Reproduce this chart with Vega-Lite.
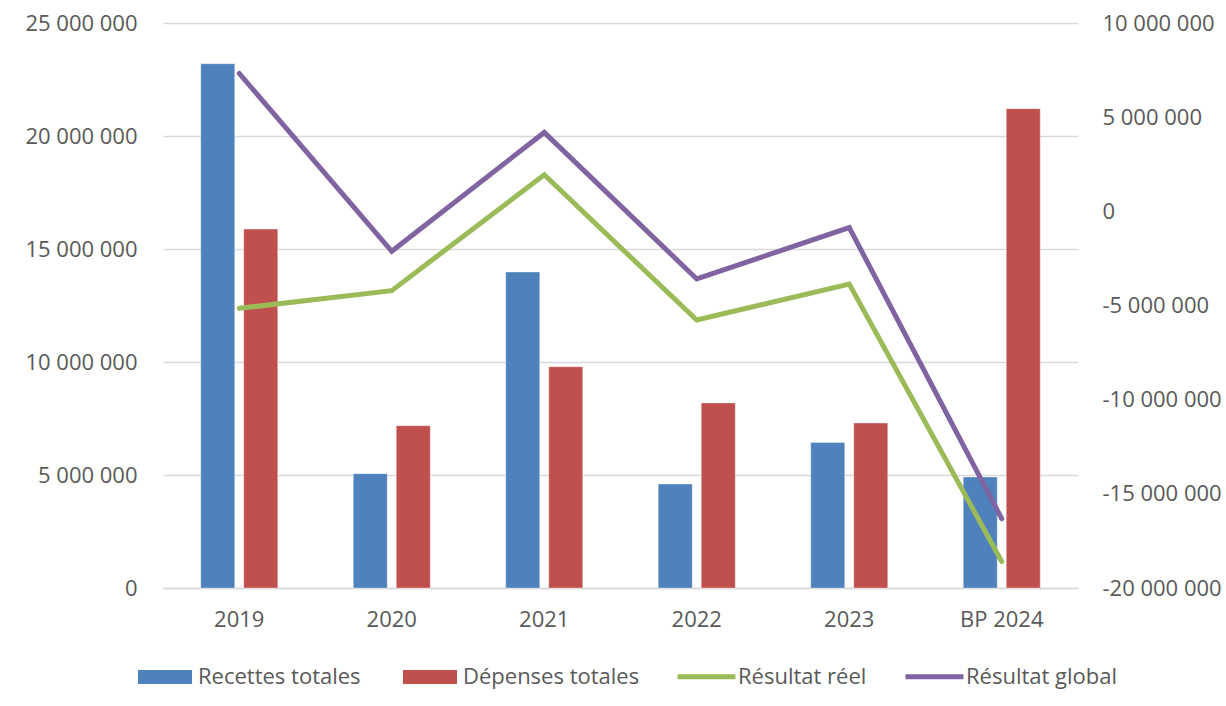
{
  "$schema": "https://vega.github.io/schema/vega-lite/v6.json",
  "autosize": "none",
  "width": 915,
  "height": 565,
  "padding": {"left": 163, "top": 23, "right": 148, "bottom": 118},
  "background": "white",
  "config": {
    "font": "Open Sans",
    "view": {"stroke": null},
    "axis": {
      "labelFont": "Open Sans",
      "labelFontSize": 22,
      "labelColor": "#595959",
      "ticks": false,
      "title": null
    },
    "legend": {
      "labelFont": "Open Sans",
      "labelFontSize": 22,
      "labelColor": "#595959",
      "labelLimit": 400
    }
  },
  "data": {
    "values": [
      {"annee": "2019", "serie": "Recettes totales", "valeur": 23200000},
      {"annee": "2019", "serie": "Dépenses totales", "valeur": 15880000},
      {"annee": "2019", "serie": "Résultat réel", "valeur": -5150000},
      {"annee": "2019", "serie": "Résultat global", "valeur": 7320000},
      {"annee": "2020", "serie": "Recettes totales", "valeur": 5060000},
      {"annee": "2020", "serie": "Dépenses totales", "valeur": 7180000},
      {"annee": "2020", "serie": "Résultat réel", "valeur": -4210000},
      {"annee": "2020", "serie": "Résultat global", "valeur": -2120000},
      {"annee": "2021", "serie": "Recettes totales", "valeur": 13980000},
      {"annee": "2021", "serie": "Dépenses totales", "valeur": 9790000},
      {"annee": "2021", "serie": "Résultat réel", "valeur": 1940000},
      {"annee": "2021", "serie": "Résultat global", "valeur": 4190000},
      {"annee": "2022", "serie": "Recettes totales", "valeur": 4600000},
      {"annee": "2022", "serie": "Dépenses totales", "valeur": 8190000},
      {"annee": "2022", "serie": "Résultat réel", "valeur": -5770000},
      {"annee": "2022", "serie": "Résultat global", "valeur": -3590000},
      {"annee": "2023", "serie": "Recettes totales", "valeur": 6440000},
      {"annee": "2023", "serie": "Dépenses totales", "valeur": 7300000},
      {"annee": "2023", "serie": "Résultat réel", "valeur": -3860000},
      {"annee": "2023", "serie": "Résultat global", "valeur": -860000},
      {"annee": "BP 2024", "serie": "Recettes totales", "valeur": 4910000},
      {"annee": "BP 2024", "serie": "Dépenses totales", "valeur": 21210000},
      {"annee": "BP 2024", "serie": "Résultat réel", "valeur": -18590000},
      {"annee": "BP 2024", "serie": "Résultat global", "valeur": -16320000}
    ]
  },
  "layer": [
    {
      "transform": [{"filter": "datum.serie === 'Recettes totales' || datum.serie === 'Dépenses totales'"}],
      "mark": {"type": "bar", "stroke": "white", "strokeOpacity": 0.35, "strokeWidth": 1},
      "encoding": {
        "x": {
          "field": "annee",
          "type": "nominal",
          "sort": null,
          "scale": {"paddingInner": 0.495, "paddingOuter": 0.2475},
          "axis": {
            "labelAngle": 0,
            "labelPadding": 21,
            "domain": true,
            "domainColor": "#d9d9d9",
            "domainWidth": 1.5,
            "grid": false
          }
        },
        "xOffset": {
          "field": "serie",
          "sort": ["Recettes totales", "Dépenses totales"],
          "scale": {"paddingInner": 0.209, "paddingOuter": 0}
        },
        "y": {
          "field": "valeur",
          "type": "quantitative",
          "scale": {"domain": [0, 25000000], "nice": false, "zero": true},
          "axis": {
            "orient": "left",
            "values": [0, 5000000, 10000000, 15000000, 20000000, 25000000],
            "labelExpr": "replace(replace(format(datum.value, ',d'), /,/g, ' '), '\u2212', '-')",
            "labelPadding": 26,
            "domain": false,
            "grid": true,
            "gridColor": "#d9d9d9",
            "gridWidth": 1.5
          }
        },
        "color": {
          "field": "serie",
          "type": "nominal",
          "scale": {
            "domain": ["Recettes totales", "Dépenses totales"],
            "range": ["#4f81bd", "#c0504d"]
          },
          "legend": {
            "title": null,
            "orient": "none",
            "direction": "horizontal",
            "legendX": -25,
            "legendY": 627,
            "symbolType": "M-1,-0.26L1,-0.26L1,0.26L-1,0.26Z",
            "symbolSize": 2916,
            "symbolStrokeWidth": 0,
            "labelOffset": 6,
            "columnPadding": 42
          }
        }
      }
    },
    {
      "transform": [{"filter": "datum.serie === 'Résultat réel' || datum.serie === 'Résultat global'"}],
      "mark": {"type": "line", "strokeWidth": 5, "strokeCap": "round", "strokeJoin": "miter"},
      "encoding": {
        "x": {"field": "annee", "type": "nominal", "sort": null},
        "y": {
          "field": "valeur",
          "type": "quantitative",
          "scale": {"domain": [-20000000, 10000000], "nice": false, "zero": false},
          "axis": {
            "orient": "right",
            "values": [-20000000, -15000000, -10000000, -5000000, 0, 5000000, 10000000],
            "labelExpr": "replace(replace(format(datum.value, ',d'), /,/g, ' '), '\u2212', '-')",
            "labelPadding": 24,
            "domain": false,
            "grid": false
          }
        },
        "color": {
          "field": "serie",
          "type": "nominal",
          "sort": ["Résultat réel", "Résultat global"],
          "scale": {
            "domain": ["Résultat réel", "Résultat global"],
            "range": ["#9bbb59", "#8064a2"]
          },
          "legend": {
            "title": null,
            "orient": "none",
            "direction": "horizontal",
            "legendX": 512,
            "legendY": 622,
            "symbolType": "stroke",
            "symbolSize": 3364,
            "symbolStrokeWidth": 5,
            "labelOffset": 0,
            "columnPadding": 28
          }
        }
      }
    }
  ],
  "resolve": {"scale": {"y": "independent", "color": "independent"}}
}
